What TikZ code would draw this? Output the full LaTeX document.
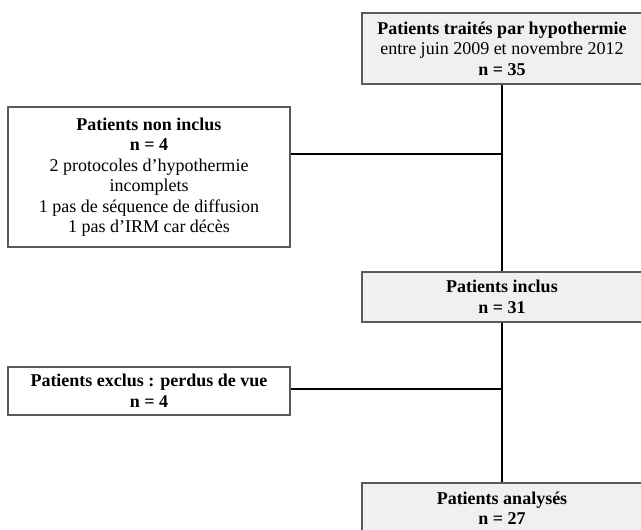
\documentclass[tikz,border=0pt]{standalone}
\usepackage{fontspec}
\setmainfont{Liberation Serif}
\usepackage{tikz}
\usetikzlibrary{positioning}
\definecolor{boxgray}{HTML}{F0F0F0}
\definecolor{edgegray}{HTML}{5A5A5A}
\tikzstyle{graybox} = [rectangle, minimum width=280pt, minimum height=50pt, inner sep=0pt, text centered, align=center, draw=edgegray, line width=1.2pt, fill=boxgray, font=\fontsize{18}{20.5}\selectfont]
\tikzstyle{whitebox} = [rectangle, minimum width=282pt, inner sep=0pt, text centered, align=center, draw=edgegray, line width=1.2pt, fill=white, font=\fontsize{18}{20.5}\selectfont]
\tikzstyle{link} = [draw=black, line width=2pt]

\begin{document}
\begin{tikzpicture}[x=1pt, y=1pt]
			\useasboundingbox (0,0) rectangle (641,530);
			\clip (0,0) rectangle (641,530);
			
			\node (treated) [graybox, minimum height=71pt] at (502,481.5) {\textbf{Patients traités par hypothermie}\\entre juin 2009 et novembre 2012\\\textbf{n = 35}};
			\node (notincl) [whitebox, minimum height=140pt] at (149,353) {\textbf{Patients non inclus}\\\textbf{n = 4}\\2 protocoles d’hypothermie\\incomplets\\1 pas de séquence de diffusion\\1 pas d’IRM car décès};
			\node (incl) [graybox] at (502,233) {\textbf{Patients inclus}\\\textbf{n = 31}};
			\node (excl) [whitebox, minimum height=48pt] at (149,139) {\textbf{Patients exclus : perdus de vue}\\\textbf{n = 4}};
			\node (analysed) [graybox] at (502,22) {\textbf{Patients analysés}\\\textbf{n = 27}};
			
			\coordinate (join1) at (502,376);
			\coordinate (join2) at (502,141);
			
			\draw[link] (treated.south) -- (incl.north);
			\draw[link] (incl.south) -- (analysed.north);
			\draw[link] (join1 -| notincl.east) -- (join1);
			\draw[link] (join2 -| excl.east) -- (join2);
			
			\end{tikzpicture}
\end{document}
